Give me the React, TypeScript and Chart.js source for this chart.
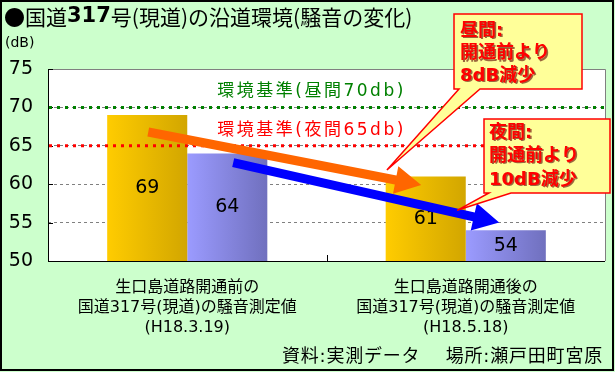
import React, { useEffect, useRef } from "react";
import { Chart, registerables } from "chart.js";

Chart.register(...registerables);

// ---------- data ----------
const categories = [
  ["生口島道路開通前の", "国道317号(現道)の騒音測定値", "(H18.3.19)"],
  ["生口島道路開通後の", "国道317号(現道)の騒音測定値", "(H18.5.18)"],
];
const seriesNames = ["昼間", "夜間"];
const dayValues = [69, 61];
const nightValues = [64, 54];
const yMin = 50;
const yMax = 75;
const yStep = 5;
const dayStandard = 70;
const nightStandard = 65;
const dayStandardLabel = "環境基準(昼間70db)";
const nightStandardLabel = "環境基準(夜間65db)";
const titleParts = ["●国道", "317", "号(現道)の沿道環境(騒音の変化)"];
const unitLabel = "(dB)";
const footerText = "資料:実測データ　 場所:瀬戸田町宮原";
const dayCallout = ["昼間:", "開通前より", "8dB減少"];
const nightCallout = ["夜間:", "開通前より", "10dB減少"];
// arrows / pointer tips in data space: [category position, dB]
const dayArrowFrom = [-0.14, 66.8];
const dayArrowTo = [0.84, 59.9];
const nightArrowFrom = [0.165, 62.8];
const nightArrowTo = [1.12, 55.0];
const dayCalloutTip = [0.717, 61.85];
const nightCalloutTip = [0.969, 56.6];

// ---------- styles ----------
const W = 615;
const H = 372;
const FONT = '"DejaVu Sans", "Noto Sans CJK JP", sans-serif';
const CJK = '"Noto Sans CJK JP", "DejaVu Sans", sans-serif';
const barColors = [
  ["#FFCC00", "#D2A600"],
  ["#9B9BFF", "#7070BE"],
];

function drawArrow(ctx: CanvasRenderingContext2D, x1: number, y1: number, x2: number, y2: number, color: string) {
  const dx = x2 - x1;
  const dy = y2 - y1;
  const len = Math.hypot(dx, dy);
  const ux = dx / len;
  const uy = dy / len;
  const px = -uy;
  const py = ux;
  const shaft = 4.5;
  const headLen = 26;
  const headHalf = 14;
  const bx = x2 - ux * headLen;
  const by = y2 - uy * headLen;
  ctx.save();
  ctx.fillStyle = color;
  ctx.beginPath();
  ctx.moveTo(x1 + px * shaft, y1 + py * shaft);
  ctx.lineTo(bx + px * shaft, by + py * shaft);
  ctx.lineTo(bx + px * headHalf, by + py * headHalf);
  ctx.lineTo(x2, y2);
  ctx.lineTo(bx - px * headHalf, by - py * headHalf);
  ctx.lineTo(bx - px * shaft, by - py * shaft);
  ctx.lineTo(x1 - px * shaft, y1 - py * shaft);
  ctx.closePath();
  ctx.fill();
  ctx.restore();
}

function drawCallout(
  ctx: CanvasRenderingContext2D,
  box: { x: number; y: number; w: number; h: number },
  wedge: [number, number],
  tip: [number, number],
  lines: string[],
  textX: number,
  textYs: number[]
) {
  const L = box.x, T = box.y, R = box.x + box.w, B = box.y + box.h;
  ctx.save();
  ctx.beginPath();
  ctx.moveTo(L, T);
  ctx.lineTo(R, T);
  ctx.lineTo(R, B);
  ctx.lineTo(wedge[1], B);
  ctx.lineTo(tip[0], tip[1]);
  ctx.lineTo(wedge[0], B);
  ctx.lineTo(L, B);
  ctx.closePath();
  ctx.fillStyle = "#FFFF99";
  ctx.fill();
  ctx.lineWidth = 1.5;
  ctx.strokeStyle = "#FF0000";
  ctx.stroke();
  ctx.font = `bold 18px ${FONT}`;
  ctx.textAlign = "left";
  ctx.textBaseline = "middle";
  lines.forEach((t, i) => {
    ctx.fillStyle = "rgba(90,0,0,0.6)";
    ctx.fillText(t, textX + 1.5, textYs[i] + 1.5);
    ctx.fillStyle = "#FF0000";
    ctx.fillText(t, textX, textYs[i]);
  });
  ctx.restore();
}

const decorPlugin = {
  id: "decor",
  beforeDraw(chart: any) {
    const { ctx, chartArea: a } = chart;
    ctx.save();
    ctx.fillStyle = "#CCFFCC";
    ctx.fillRect(0, 0, W, H);
    ctx.fillStyle = "#FFFFFF";
    ctx.fillRect(a.left, a.top, a.right - a.left, a.bottom - a.top);
    ctx.restore();
  },
  beforeDatasetsDraw(chart: any) {
    const ctx = chart.ctx;
    chart.data.datasets.forEach((_ds: any, di: number) => {
      const meta = chart.getDatasetMeta(di);
      meta.data.forEach((bar: any) => {
        const x = bar.x;
        const w = bar.width;
        const g = ctx.createLinearGradient(x - w / 2, 0, x + w / 2, 0);
        g.addColorStop(0, barColors[di][0]);
        g.addColorStop(1, barColors[di][1]);
        bar.options = { ...bar.options, backgroundColor: g };
      });
    });
  },
  afterDatasetsDraw(chart: any) {
    const { ctx, chartArea: a, scales } = chart;
    const xs = scales.x;
    const ys = scales.y;
    ctx.save();

    // value labels
    ctx.font = `19px ${FONT}`;
    ctx.fillStyle = "#000";
    ctx.textAlign = "center";
    ctx.textBaseline = "middle";
    chart.data.datasets.forEach((ds: any, di: number) => {
      const meta = chart.getDatasetMeta(di);
      meta.data.forEach((bar: any, i: number) => {
        const bottom = Math.min(bar.base, a.bottom);
        ctx.fillText(String(ds.data[i]), bar.x, (bar.y + bottom) / 2);
      });
    });

    // plot border: top & right gray, left & bottom black
    ctx.lineWidth = 1;
    ctx.strokeStyle = "#808080";
    ctx.beginPath();
    ctx.moveTo(a.left, Math.round(a.top) + 0.5);
    ctx.lineTo(Math.round(a.right) + 0.5, Math.round(a.top) + 0.5);
    ctx.lineTo(Math.round(a.right) + 0.5, a.bottom);
    ctx.stroke();
    ctx.strokeStyle = "#000";
    ctx.beginPath();
    ctx.moveTo(Math.round(a.left) + 0.5, a.top);
    ctx.lineTo(Math.round(a.left) + 0.5, Math.round(a.bottom) + 0.5);
    ctx.lineTo(a.right, Math.round(a.bottom) + 0.5);
    ctx.stroke();
    // inner y ticks
    ys.ticks.forEach((t: any) => {
      const y = Math.round(ys.getPixelForValue(t.value)) + 0.5;
      ctx.beginPath();
      ctx.moveTo(a.left, y);
      ctx.lineTo(a.left + 5, y);
      ctx.stroke();
    });
    // x tick between categories
    const midX = Math.round((xs.getPixelForValue(0) + xs.getPixelForValue(1)) / 2) + 0.5;
    ctx.beginPath();
    ctx.moveTo(midX, a.bottom - 6);
    ctx.lineTo(midX, a.bottom);
    ctx.stroke();

    // standard lines
    const drawStd = (v: number, color: string, label: string) => {
      const y = ys.getPixelForValue(v);
      ctx.save();
      ctx.strokeStyle = color;
      ctx.lineWidth = 3;
      ctx.setLineDash([3, 5]);
      ctx.beginPath();
      ctx.moveTo(a.left + 1, y);
      ctx.lineTo(a.right, y);
      ctx.stroke();
      ctx.restore();
      ctx.save();
      ctx.fillStyle = color;
      ctx.font = `17px ${FONT}`;
      (ctx as any).letterSpacing = "2.5px";
      ctx.textAlign = "left";
      ctx.textBaseline = "middle";
      ctx.fillText(label, a.left + (a.right - a.left) * 0.304, y - 15.5);
      ctx.restore();
    };
    drawStd(dayStandard, "#008000", dayStandardLabel);
    drawStd(nightStandard, "#FF0000", nightStandardLabel);

    // arrows
    const px = (p: number[]): [number, number] => [xs.getPixelForValue(p[0]), ys.getPixelForValue(p[1])];
    const oa = px(dayArrowFrom), ob = px(dayArrowTo);
    drawArrow(ctx, oa[0], oa[1], ob[0], ob[1], "#FF6600");
    const ba = px(nightArrowFrom), bb = px(nightArrowTo);
    drawArrow(ctx, ba[0], ba[1], bb[0], bb[1], "#0000FF");

    // callouts
    drawCallout(ctx, { x: 454, y: 14, w: 128, h: 75 }, [459, 480], px(dayCalloutTip), dayCallout, 460, [31, 53.5, 76]);
    drawCallout(ctx, { x: 484, y: 119, w: 126, h: 74 }, [489, 511], px(nightCalloutTip), nightCallout, 489, [133, 156, 180]);

    ctx.restore();
  },
  afterDraw(chart: any) {
    const ctx = chart.ctx;
    ctx.save();
    // title
    ctx.fillStyle = "#000";
    ctx.textBaseline = "middle";
    ctx.textAlign = "left";
    let x = 4;
    titleParts.forEach((t, i) => {
      ctx.font = i === 1 ? `bold 21px ${FONT}` : `21px ${CJK}`;
      ctx.fillText(t, x, 17);
      x += ctx.measureText(t).width;
    });
    // unit
    ctx.font = `14px ${FONT}`;
    ctx.fillText(unitLabel, 5, 43);
    // footer
    ctx.font = `18px ${FONT}`;
    (ctx as any).letterSpacing = "0.8px";
    ctx.textAlign = "right";
    ctx.fillText(footerText, 603, 357);
    (ctx as any).letterSpacing = "0px";
    // frame
    ctx.strokeStyle = "#000";
    ctx.lineWidth = 2;
    ctx.strokeRect(1, 1, W - 3, H - 3);
    ctx.restore();
  },
};

export default function App() {
  const ref = useRef<HTMLCanvasElement | null>(null);
  useEffect(() => {
    document.body.style.margin = "0";
    const canvas = ref.current;
    if (!canvas) return;
    const chart = new Chart(canvas, {
      type: "bar",
      data: {
        labels: categories as any,
        datasets: [
          {
            label: seriesNames[0],
            data: dayValues,
            backgroundColor: () => barColors[0][0],
            borderWidth: 0,
            categoryPercentage: 0.575,
            barPercentage: 1.0,
          },
          {
            label: seriesNames[1],
            data: nightValues,
            backgroundColor: () => barColors[1][0],
            borderWidth: 0,
            categoryPercentage: 0.575,
            barPercentage: 1.0,
          },
        ],
      },
      options: {
        responsive: false,
        devicePixelRatio: 1,
        animation: false,
        layout: { padding: { left: 0, top: 69, right: 10, bottom: 0 } },
        plugins: {
          legend: { display: false },
          tooltip: { enabled: false },
          title: { display: false },
        },
        scales: {
          x: {
            type: "category",
            offset: true,
            grid: { display: false },
            border: { display: false },
            ticks: {
              autoSkip: false,
              maxRotation: 0,
              minRotation: 0,
              padding: 9,
              color: "#000",
              font: { family: FONT, size: 16, lineHeight: 1.25 },
            },
            afterFit: (s: any) => {
              s.height = 111;
            },
          },
          y: {
            min: yMin,
            max: yMax,
            ticks: {
              stepSize: yStep,
              padding: 15,
              color: "#000",
              font: { family: FONT, size: 19 },
            },
            grid: { color: "#808080", lineWidth: 1, drawTicks: false },
            border: { display: false, dash: [3, 3] },
            afterFit: (s: any) => {
              s.width = 48;
            },
          },
        },
      },
      plugins: [decorPlugin],
    });
    return () => chart.destroy();
  }, []);
  return (
    <div style={{ width: W, height: H, position: "relative" }}>
      <canvas ref={ref} width={W} height={H} style={{ display: "block", width: W, height: H }} />
    </div>
  );
}
